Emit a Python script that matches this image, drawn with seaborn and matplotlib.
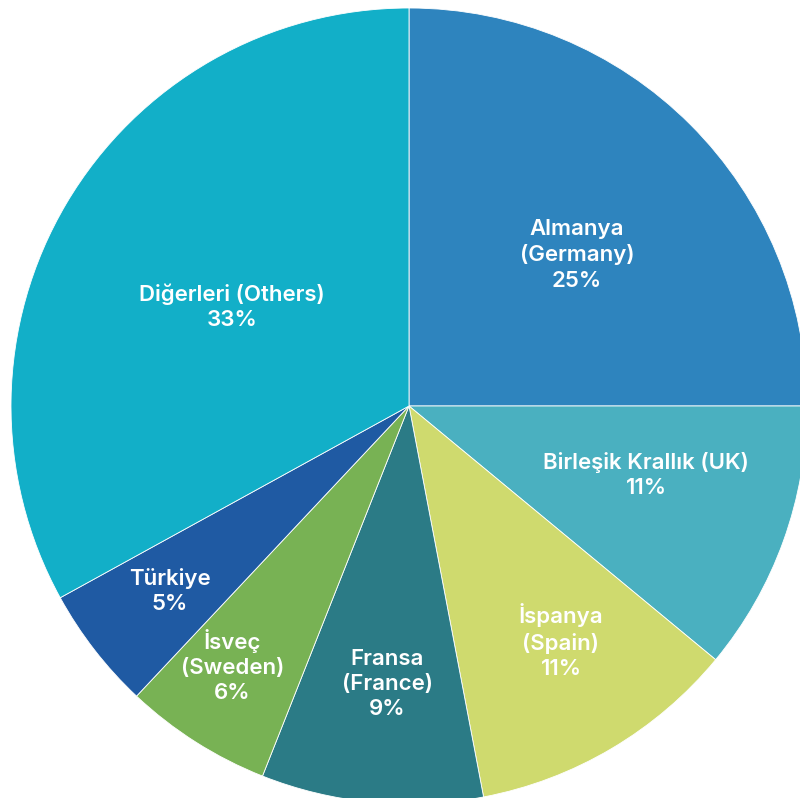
import matplotlib
matplotlib.use("Agg")
import matplotlib.pyplot as plt
import numpy as np
import seaborn as sns

# Export share by destination country
labels = ["Almanya\n(Germany)", "Birleşik Krallık (UK)", "İspanya\n(Spain)",
          "Fransa\n(France)", "İsveç\n(Sweden)", "Türkiye", "Diğerleri (Others)"]
shares = [25, 11, 11, 9, 6, 5, 33]
colors = ["#2E84BE", "#4AB0C0", "#CFDA6E", "#2B7B86", "#78B254", "#1F5AA3", "#12AFC8"]

# label placement: radius fraction and angular nudge (degrees) from the wedge middle
label_radius = [0.568, 0.620, 0.703, 0.701, 0.790, 0.759, 0.510]
label_nudge = [-3.0, 3.6, 2.3, 0.9, -1.8, -0.1, 1.4]

sns.set_theme(style="white")
plt.rcParams["font.family"] = ["Inter", "DejaVu Sans"]

W, H = 800, 798
cx, cy, R = 409, 406, 398

fig = plt.figure(figsize=(W / 100, H / 100), dpi=100)
ax = fig.add_axes([0, 0, 1, 1])

palette = sns.color_palette(colors)
wedges, _ = ax.pie(shares, colors=palette, startangle=90, counterclock=False,
                   radius=R, wedgeprops=dict(edgecolor="white", linewidth=0.6),
                   frame=True)
ax.set_xlim(-cx, W - cx)
ax.set_ylim(-(H - cy), cy)
ax.set_aspect("equal")
ax.axis("off")

for w, lab, val, f, d in zip(wedges, labels, shares, label_radius, label_nudge):
    ang = np.deg2rad((w.theta1 + w.theta2) / 2 + d)
    x, y = f * R * np.cos(ang), f * R * np.sin(ang)
    ax.text(x, y, f"{lab}\n{val}%", ha="center", va="center", color="white",
            fontsize=16, fontweight="semibold", linespacing=1.32)

fig.savefig("out.png", dpi=100)
